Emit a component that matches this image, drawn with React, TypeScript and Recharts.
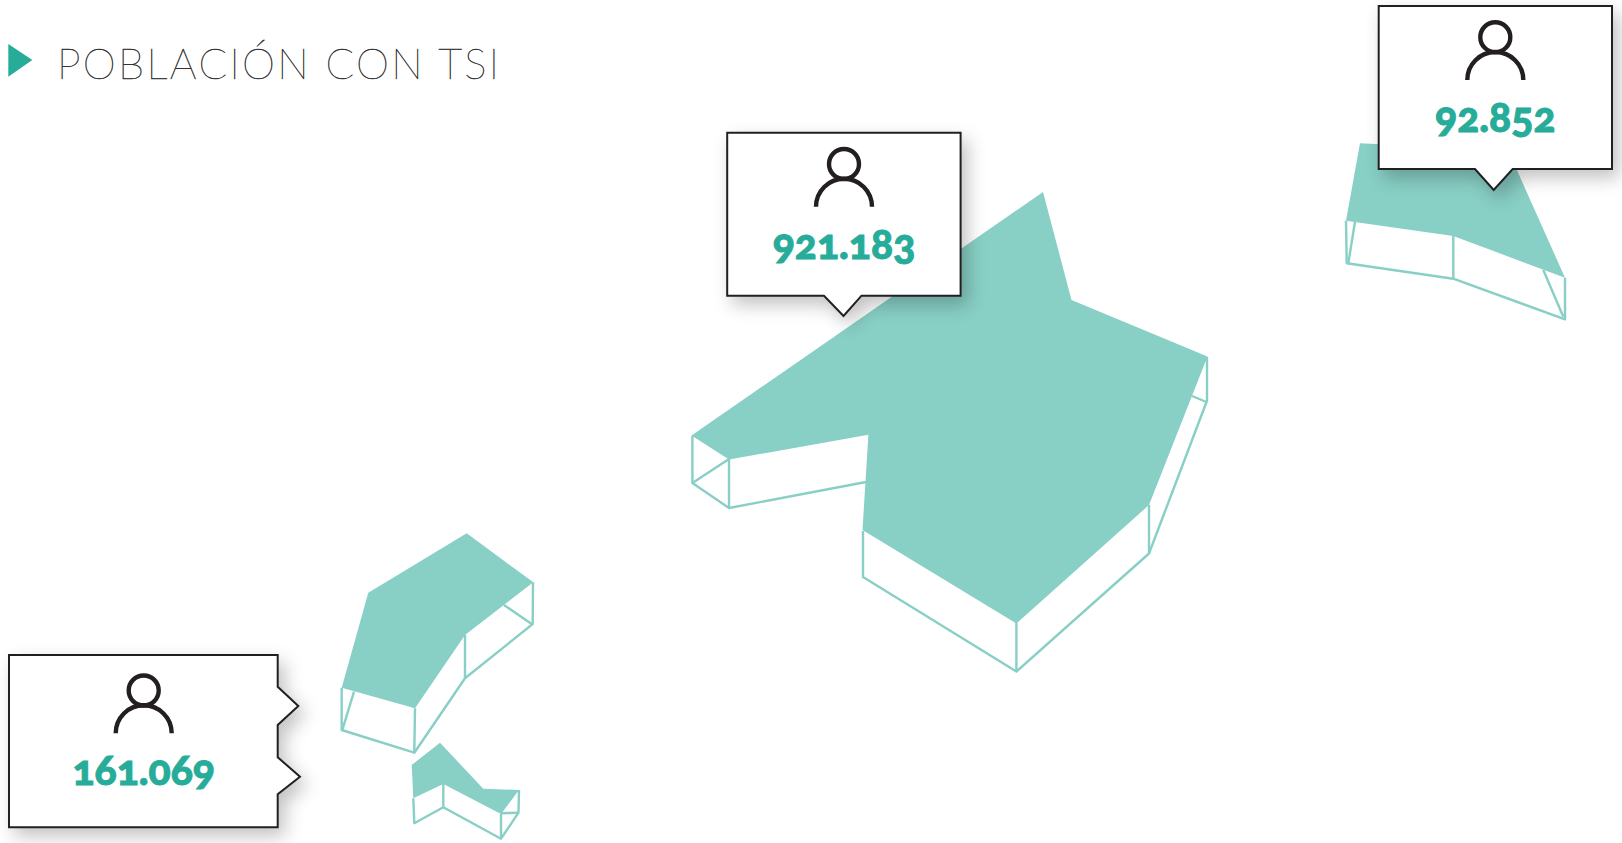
import React from 'react';
import { ScatterChart, Scatter, XAxis, YAxis } from 'recharts';

type P = [number, number];
const WIDTH = 1622;
const HEIGHT = 843;
const TEAL = '#88CFC5';
const GREEN = '#26AC99';
const INK = '#231F20';

// Region tops (filled)
const mainTop: P[] = [[691.5, 435.5], [1043, 192], [1071.5, 300], [1207.5, 356.5], [1149, 505], [1016.4, 623.5], [862.5, 530], [868.4, 434.7], [729, 459.5]];
const northEastTop: P[] = [[1360, 143.3], [1346, 220.7], [1453.3, 236], [1565, 277.7], [1516, 168], [1500, 150]];
const westTop: P[] = [[368.3, 592.7], [466.7, 533.3], [533.3, 582.3], [465, 635], [415, 708.3], [341.7, 687.7]];
const southTop: P[] = [[440, 742.7], [411.7, 765], [413.3, 798.3], [443.3, 784], [501, 814], [519, 790], [483.3, 788.7]];

// Wireframe sides
const mainWires: P[][] = [
  [[692.4, 436], [692.4, 483], [729, 508], [866, 482]],
  [[692.4, 483], [729, 459]],
  [[729, 459], [729, 508]],
  [[863, 531], [863, 577], [1016.4, 671.5], [1149, 553.5], [1206.5, 402], [1192, 396]],
  [[1016.4, 623], [1016.4, 671.5]],
  [[1149, 505], [1149, 553.5]],
  [[1207, 357], [1207, 402]],
];
const northEastWires: P[][] = [
  [[1346, 220.7], [1346.7, 263.3], [1453.3, 278.7], [1565, 319.3], [1565, 277.7]],
  [[1355, 221.7], [1348.3, 263.3]],
  [[1453.3, 236], [1453.3, 278.7]],
  [[1543.3, 270], [1563.3, 316.7]],
];
const westWires: P[][] = [
  [[341.7, 687.7], [341.7, 730], [414.3, 752.7], [465, 678.3], [532.7, 624], [533, 582.3]],
  [[354, 691.7], [342.3, 730]],
  [[415, 708.3], [414.3, 752.7]],
  [[465, 635], [465, 678.3]],
  [[504, 605], [531.7, 624]],
];
const southWires: P[][] = [
  [[413.3, 798.3], [414.3, 823.3], [443.3, 807.3], [501, 838.7], [518.5, 812.7], [519, 790]],
  [[443.3, 784], [443.3, 807.3]],
  [[501, 814], [501, 838.7]],
  [[501, 813.3], [518, 812.7]],
];

// Callouts
const mainCallout: P[] = [[727.2, 132.7], [960.6, 132.7], [960.6, 295.7], [861.5, 295.7], [843.5, 316], [824, 295.7], [727.2, 295.7]];
const northEastCallout: P[] = [[1378.7, 6], [1612, 6], [1612, 169], [1512.7, 169], [1493.7, 190], [1475, 169], [1378.7, 169]];
const southWestCallout: P[] = [[9, 655], [277.7, 655], [277.7, 686.7], [298.3, 706], [277.7, 725], [277.7, 757.3], [300, 776.7], [277.7, 794.3], [277.7, 827.3], [9, 827.3]];

const populationLabels = ['921.183', '92.852', '161.069'];
const populationAnchors: P[] = [[844, 164], [1495.3, 37.2], [143.7, 690.5]];

const titleText = 'POBLACIÓN CON TSI';
const titleAnchor: P[] = [[57, 79]];
const titleMarker: P[] = [[8.3, 44], [32.3, 60], [8.3, 76.7]];

const toPoints = (pts: P[]) => pts.map(([x, y]) => ({ x, y }));
const None = () => <g />;
const pathOf = (pts: { x: number; y: number }[], close: boolean) =>
  pts.map((p, i) => `${i ? 'L' : 'M'}${p.x} ${p.y}`).join(' ') + (close ? ' Z' : '');

const wireLine = (props: any) => (
  <path d={pathOf(props.points, false)} fill="none" stroke={TEAL} strokeWidth={2.4} strokeLinejoin="round" />
);
const topLine = (props: any) => <path d={pathOf(props.points, true)} fill={TEAL} stroke="none" />;
const markerLine = (props: any) => <path d={pathOf(props.points, true)} fill={GREEN} stroke="none" />;
const calloutLine = (props: any) => (
  <path
    d={pathOf(props.points, true)}
    fill="#fff"
    stroke={INK}
    strokeWidth={2}
    style={{ filter: 'drop-shadow(6px 8px 9px rgba(0,0,0,0.24))' }}
  />
);

const PersonShape = (props: any) => {
  const { cx, cy, payload } = props;
  return (
    <g>
      <circle cx={cx} cy={cy} r={15} fill="none" stroke={INK} strokeWidth={4.4} />
      <path d={`M${cx - 28} ${cy + 42.8} A28 28 0 0 1 ${cx + 28} ${cy + 42.8}`} fill="none" stroke={INK} strokeWidth={4.4} />
      <text
        x={cx}
        y={cy + 94.5}
        textAnchor="middle"
        fill={GREEN}
        stroke={GREEN}
        strokeWidth={0.9}
        fontFamily="Lato"
        fontWeight={900}
        fontSize={41}
        style={{ fontVariantNumeric: 'oldstyle-nums' }}
      >
        {payload.label}
      </text>
    </g>
  );
};

const TitleShape = (props: any) => (
  <text
    x={props.cx}
    y={props.cy}
    fill="#222"
    stroke="#333"
    strokeWidth={0.45}
    fontFamily="Lato"
    fontWeight={100}
    fontSize={42}
    textLength={442}
    lengthAdjust="spacing"
  >
    {titleText}
  </text>
);

const tops = [mainTop, northEastTop, westTop, southTop];
const wires = [...mainWires, ...northEastWires, ...westWires, ...southWires];
const callouts = [mainCallout, northEastCallout, southWestCallout];
const anchors = populationAnchors.map(([x, y], i) => ({ x, y, label: populationLabels[i] }));

export default function App() {
  return (
    <div style={{ position: 'absolute', left: 0, top: 0, width: WIDTH, height: HEIGHT }}>
      <ScatterChart width={WIDTH} height={HEIGHT} margin={{ top: 0, right: 0, bottom: 0, left: 0 }}>
        <XAxis type="number" dataKey="x" domain={[0, WIDTH]} hide />
        <YAxis type="number" dataKey="y" domain={[0, HEIGHT]} reversed hide />
        {wires.map((w, i) => (
          <Scatter key={`w${i}`} data={toPoints(w)} line={wireLine} shape={None} isAnimationActive={false} />
        ))}
        {tops.map((t, i) => (
          <Scatter key={`t${i}`} data={toPoints(t)} line={topLine} shape={None} isAnimationActive={false} />
        ))}
        {callouts.map((c, i) => (
          <Scatter key={`c${i}`} data={toPoints(c)} line={calloutLine} shape={None} isAnimationActive={false} />
        ))}
        <Scatter data={anchors} shape={PersonShape} isAnimationActive={false} />
        <Scatter data={toPoints(titleMarker)} line={markerLine} shape={None} isAnimationActive={false} />
        <Scatter data={toPoints(titleAnchor)} shape={TitleShape} isAnimationActive={false} />
      </ScatterChart>
    </div>
  );
}
